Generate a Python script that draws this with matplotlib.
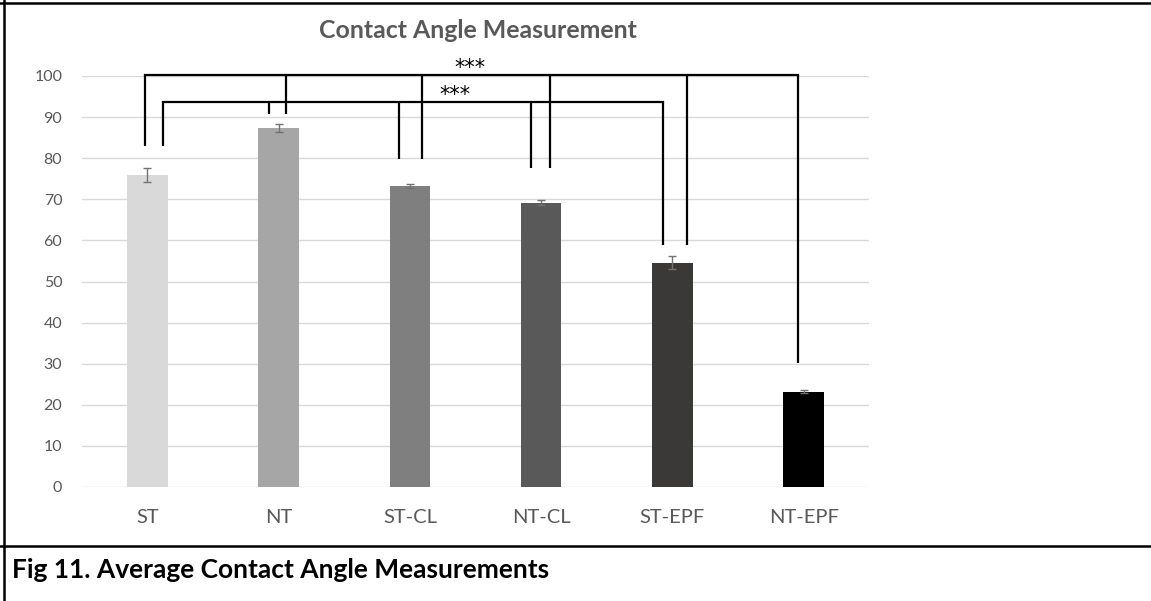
# ==========================================================
# CONTACT ANGLE MEASUREMENT - bar chart with significance brackets
# ==========================================================

import matplotlib
matplotlib.use("Agg")
import matplotlib.pyplot as plt
from matplotlib.lines import Line2D

# ==========================================================
# DATA
# ==========================================================

categories = ["ST", "NT", "ST-CL", "NT-CL", "ST-EPF", "NT-EPF"]
mean_angle = [76.0, 87.3, 73.2, 69.2, 54.6, 23.2]
error_angle = [1.7, 0.9, 0.5, 0.7, 1.5, 0.3]

# bracket legs: (x offset in category units, bottom of leg)
outer_legs = [(-0.02, 83.0), (1.06, 90.8), (2.09, 79.8),
              (3.07, 77.5), (4.11, 59.0), (4.96, 30.1)]
outer_level = 100.2
inner_legs = [(0.12, 83.0), (0.93, 90.8), (1.92, 79.8),
              (2.92, 77.5), (3.93, 59.0)]
inner_level = 93.7

# ==========================================================
# SETTINGS
# ==========================================================

plt.rcParams["font.family"] = ["Lato", "DejaVu Sans"]

W, H = 1151, 601
BAR_COLORS = ["#d9d9d9", "#a6a6a6", "#7f7f7f", "#595959", "#3b3838", "#000000"]
TEXT_GRAY = "#595959"


def fx(px):
    return px / W


def fy(py):
    return 1 - py / H


# ==========================================================
# CHART
# ==========================================================

def draw_bracket(ax, legs, level):
    xs = [p[0] for p in legs]
    ax.plot([min(xs), max(xs)], [level, level], color="black",
            lw=1.6, clip_on=False, solid_capstyle="projecting")
    for x, bottom in legs:
        ax.plot([x, x], [bottom, level], color="black", lw=1.6,
                clip_on=False, solid_capstyle="butt")


def main():

    fig = plt.figure(figsize=(W / 100, H / 100), dpi=100)

    ax = fig.add_axes([fx(81.7), fy(487), fx(869.3) - fx(81.7), (487 - 76) / H])

    x = list(range(len(categories)))

    ax.bar(x, mean_angle, width=0.31, color=BAR_COLORS, zorder=2)

    ax.errorbar(x, mean_angle, yerr=error_angle, fmt="none",
                ecolor="#767171", elinewidth=1.0, capsize=2.6,
                capthick=1.0, zorder=3)

    ax.set_xlim(-0.5, len(categories) - 0.5)
    ax.set_ylim(0, 100)
    ax.set_yticks(range(0, 101, 10))
    ax.set_xticks(x)
    ax.set_xticklabels(categories)

    ax.grid(axis="y", color="#d9d9d9", lw=1.0, zorder=0)
    ax.set_axisbelow(True)
    for s in ax.spines.values():
        s.set_visible(False)

    ax.tick_params(axis="y", length=0, pad=14, labelsize=11.5,
                   labelcolor=TEXT_GRAY)
    ax.tick_params(axis="x", length=0, pad=16, labelsize=14.5,
                   labelcolor=TEXT_GRAY)

    draw_bracket(ax, outer_legs, outer_level)
    draw_bracket(ax, inner_legs, inner_level)

    ax.text(2.46, 100.6, "***", ha="center", va="baseline", fontsize=15,
            family="DejaVu Sans", color="black", clip_on=False)
    ax.text(2.34, 93.9, "***", ha="center", va="baseline", fontsize=15,
            family="DejaVu Sans", color="black")

    fig.text(fx(478), fy(31), "Contact Angle Measurement", ha="center",
             va="center", fontsize=17.9, fontweight="bold", color=TEXT_GRAY)

    fig.text(fx(12), fy(570), "Fig 11. Average Contact Angle Measurements",
             ha="left", va="center", fontsize=19, fontweight="bold",
             color="black")

    # frame lines
    fig.add_artist(Line2D([fx(4), fx(4)], [0, 1], transform=fig.transFigure,
                          color="black", lw=1.8))
    fig.add_artist(Line2D([0, 1], [fy(3), fy(3)], transform=fig.transFigure,
                          color="black", lw=1.8))
    fig.add_artist(Line2D([0, 1], [fy(546), fy(546)],
                          transform=fig.transFigure, color="black", lw=1.8))

    fig.savefig("out.png", dpi=100)


if __name__ == "__main__":
    main()
